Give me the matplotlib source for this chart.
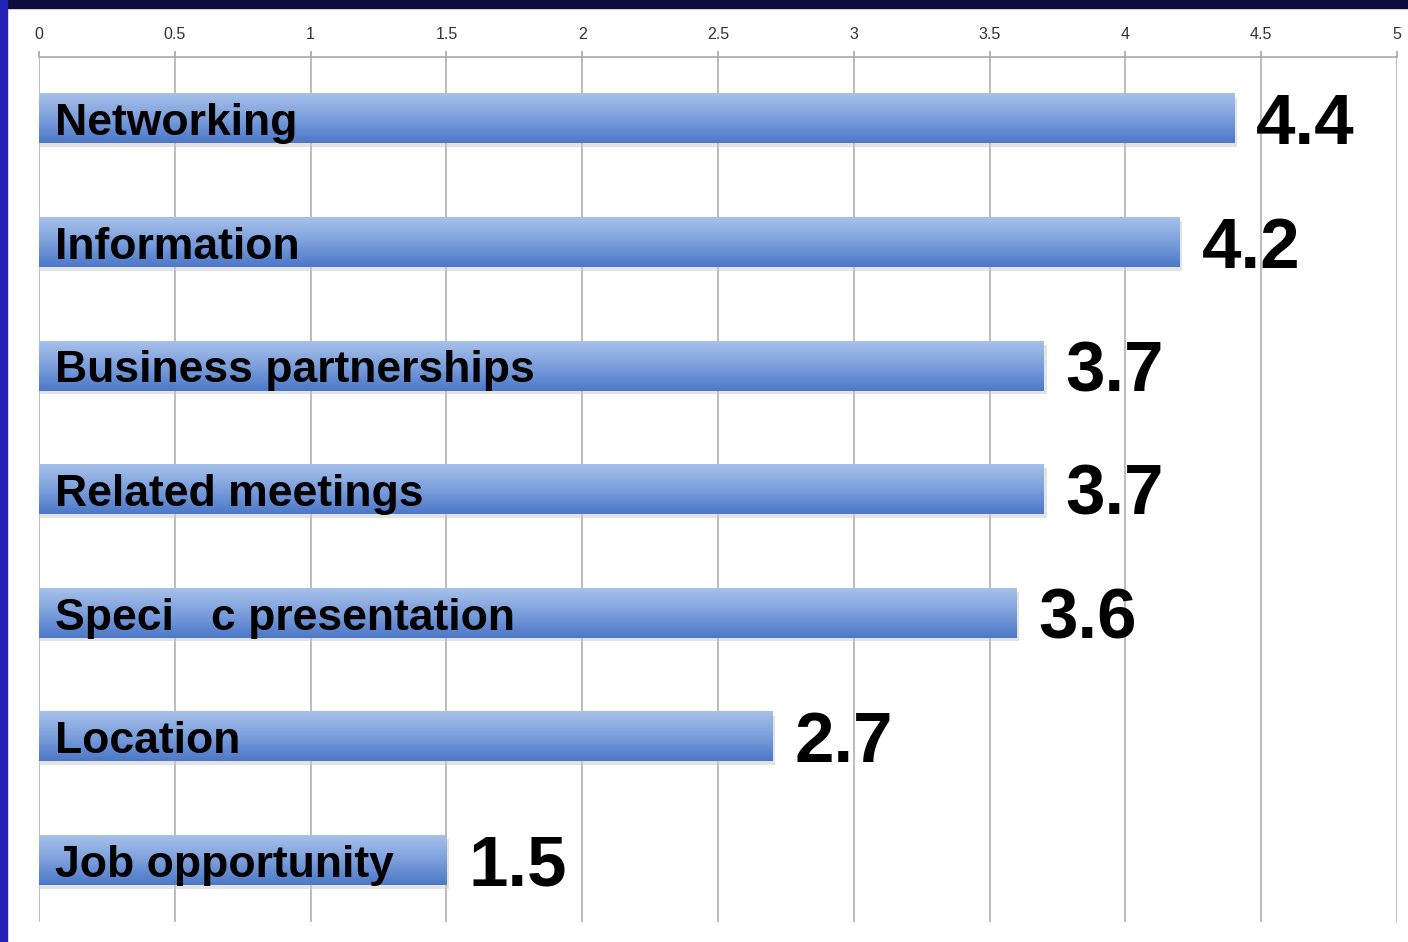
import numpy as np
import matplotlib.pyplot as plt
from matplotlib.colors import LinearSegmentedColormap
from matplotlib.patches import Rectangle

# punteggi medi per motivo di partecipazione
categorie = ['Networking', 'Information', 'Business partnerships', 'Related meetings',
             'Speci   c presentation', 'Location', 'Job opportunity']
valori = [4.4, 4.2, 3.7, 3.7, 3.6, 2.7, 1.5]
etichette_valori = ['4.4', '4.2', '3.7', '3.7', '3.6', '2.7', '1.5']
tick_x = [0, 0.5, 1, 1.5, 2, 2.5, 3, 3.5, 4, 4.5, 5]

plt.rcParams['font.family'] = ['Liberation Sans', 'DejaVu Sans']

fig = plt.figure(figsize=(14.08, 9.42), dpi=100, facecolor='white')
# cornice scura in alto e striscia blu a sinistra
fig.patches.append(Rectangle((0, 1 - 8/942), 1, 8/942, transform=fig.transFigure,
                             color='#0d0d3c', zorder=0))
fig.patches.append(Rectangle((0, 0), 7/1408, 1, transform=fig.transFigure,
                             color='#2424b8', zorder=0))

ax = fig.add_axes([39/1408, 20/942, (1397-39)/1408, (921-56)/942])

grad = LinearSegmentedColormap.from_list('barre', ['#a6c0ea', '#7c9fdc', '#4b78c8'])
g = np.linspace(0, 1, 100).reshape(-1, 1)
h = 0.40
for i, v in enumerate(valori):
    # ombra leggera sotto la barra
    ax.add_patch(Rectangle((0, i - h/2 + 0.03), v + 0.01, h, color='#c8c8c8',
                           alpha=0.5, zorder=2, lw=0))
    ax.imshow(g, extent=[0, v, i + h/2, i - h/2], aspect='auto', cmap=grad,
              zorder=3, interpolation='bilinear')
    ax.text(0.06, i + 0.04, categorie[i], fontsize=32, fontweight='bold',
            va='center', ha='left', color='black', zorder=4)
    ax.text(v + 0.08, i + 0.06, etichette_valori[i], fontsize=51, fontweight='bold',
            va='center', ha='left', color='black', zorder=4)
ax.set_xlim(0, 5)
ax.set_ylim(6.5, -0.5)

ax.set_xticks(tick_x)
ax.set_xticklabels([f'{t:g}' for t in tick_x])
ax.xaxis.tick_top()
ax.tick_params(axis='x', length=4, width=1.1, color='#a0a0a0', labelsize=11.5,
               labelcolor='#333333', pad=7)
ax.set_yticks([])
ax.grid(axis='x', color='#b0b0b0', lw=1.2, zorder=1)
ax.set_axisbelow(True)
for s in ['left', 'right', 'bottom']:
    ax.spines[s].set_visible(False)
ax.spines['top'].set_color('#a8a8a8')
ax.spines['top'].set_linewidth(1.2)

plt.savefig('out.png', dpi=100)
